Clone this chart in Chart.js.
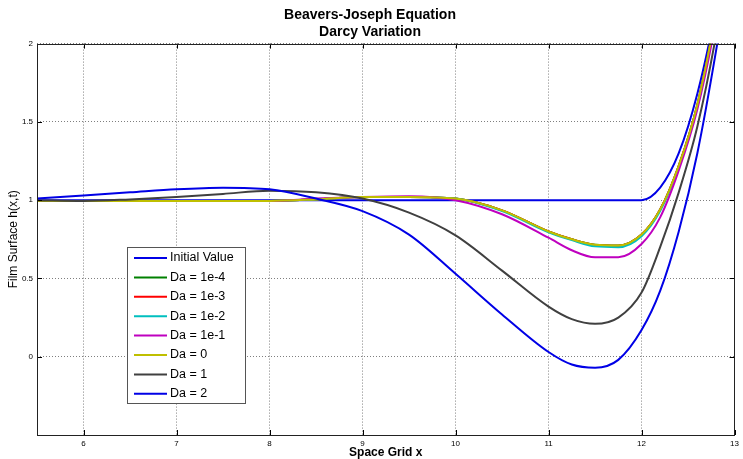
<!DOCTYPE html>
<html>
<head>
<meta charset="utf-8">
<script src="https://cdn.jsdelivr.net/npm/chart.js@4.4.1/dist/chart.umd.min.js"></script>
<style>
  body { margin: 0; background: #fff; }
  canvas { display: block; }
</style>
</head>
<body>
<canvas id="film" width="743" height="459"></canvas>
<script>
// space grid points and film heights
const xs = [5.5, 6, 6.5, 7, 7.5, 8, 8.5, 9, 9.5, 10, 10.5, 11, 11.25, 11.5, 11.75, 12, 12.2, 12.4, 12.6, 12.8, 13];
const initialValue = [1, 1, 1, 1, 1, 1, 1, 1, 1, 1, 1, 1, 1, 1, 1, 1, 1.08, 1.30, 1.68, 2.22, 2.9];
const da1e4 = [0.995, 0.995, 0.995, 0.995, 0.995, 0.995, 1.005, 1.02, 1.02, 1.01, 0.935, 0.80, 0.75, 0.715, 0.71, 0.78, 0.94, 1.22, 1.61, 2.2, 3.0];
const da1e3 = [0.995, 0.995, 0.995, 0.995, 0.995, 0.995, 1.005, 1.02, 1.02, 1.01, 0.935, 0.80, 0.75, 0.714, 0.709, 0.78, 0.94, 1.22, 1.61, 2.2, 3.0];
const da1e2 = [0.995, 0.995, 0.995, 0.995, 0.995, 0.995, 1.005, 1.02, 1.02, 1.01, 0.93, 0.795, 0.745, 0.705, 0.70, 0.77, 0.93, 1.21, 1.60, 2.19, 3.0];
const da1e1 = [0.995, 0.995, 0.995, 0.995, 0.995, 0.995, 1.01, 1.02, 1.025, 1.0, 0.91, 0.76, 0.68, 0.635, 0.635, 0.72, 0.89, 1.19, 1.58, 2.15, 2.9];
const da0 = [0.995, 0.995, 0.995, 0.995, 0.995, 0.995, 1.005, 1.02, 1.02, 1.01, 0.935, 0.80, 0.75, 0.715, 0.71, 0.78, 0.94, 1.22, 1.61, 2.2, 3.0];
const da1 = [1.0, 0.995, 1.005, 1.02, 1.04, 1.06, 1.05, 1.01, 0.92, 0.775, 0.55, 0.32, 0.24, 0.21, 0.25, 0.41, 0.70, 1.05, 1.47, 2.05, 2.8];
const da2 = [1.01, 1.03, 1.05, 1.07, 1.08, 1.07, 1.01, 0.93, 0.78, 0.53, 0.27, 0.03, -0.05, -0.07, -0.02, 0.17, 0.42, 0.80, 1.30, 1.95, 2.7];

const seriesNames = ['Initial Value', 'Da = 1e-4', 'Da = 1e-3', 'Da = 1e-2', 'Da = 1e-1', 'Da = 0', 'Da = 1', 'Da = 2'];
const seriesData = [initialValue, da1e4, da1e3, da1e2, da1e1, da0, da1, da2];
const seriesColors = ['#0000e6', '#008000', '#ff0000', '#00bfbf', '#bf00bf', '#bfbf00', '#404040', '#0000e6'];
const xTicks = [6, 7, 8, 9, 10, 11, 12, 13];
const yTicks = [0, 0.5, 1, 1.5, 2];

const sans = "'Liberation Sans', Arial, Helvetica, sans-serif";

// matlab style box, inward ticks and legend inside the axes
const matlabBox = {
    id: 'matlabBox',
    afterDatasetsDraw(chart) {
        const { ctx, chartArea: a, scales } = chart;
        ctx.save();
        ctx.strokeStyle = '#000';
        ctx.lineWidth = 1;
        ctx.beginPath();
        xTicks.forEach(t => {
            const px = Math.round(scales.x.getPixelForValue(t)) + 0.5;
            ctx.moveTo(px, a.bottom); ctx.lineTo(px, a.bottom - 5);
            ctx.moveTo(px, a.top); ctx.lineTo(px, a.top + 5);
        });
        yTicks.forEach(t => {
            const py = Math.round(scales.y.getPixelForValue(t)) + 0.5;
            ctx.moveTo(a.left, py); ctx.lineTo(a.left + 5, py);
            ctx.moveTo(a.right, py); ctx.lineTo(a.right - 5, py);
        });
        ctx.stroke();
        ctx.strokeStyle = '#222';
        ctx.strokeRect(Math.round(a.left) + 0.5, Math.round(a.top) + 0.5, Math.round(a.right - a.left) - 1, Math.round(a.bottom - a.top));
        ctx.restore();
    },
    afterDraw(chart) {
        const ctx = chart.ctx;
        const bx = 127, by = 247, bw = 118, bh = 156, step = 19.4;
        ctx.save();
        ctx.fillStyle = '#fff';
        ctx.fillRect(bx, by, bw, bh);
        ctx.strokeStyle = '#555';
        ctx.lineWidth = 1;
        ctx.strokeRect(bx + 0.5, by + 0.5, bw, bh);
        ctx.font = '12.5px ' + sans;
        ctx.textBaseline = 'middle';
        chart.data.datasets.forEach((ds, i) => {
            const y = by + 11 + i * step;
            ctx.strokeStyle = ds.borderColor;
            ctx.lineWidth = 2;
            ctx.beginPath();
            ctx.moveTo(134, y); ctx.lineTo(167, y);
            ctx.stroke();
            ctx.fillStyle = '#000';
            ctx.fillText(ds.label, 170, y);
        });
        ctx.restore();
    }
};

const ctx = document.getElementById('film').getContext('2d');
const filmChart = new Chart(ctx, {
    type: 'line',
    data: {
        datasets: seriesNames.map((name, i) => ({
            label: name,
            data: xs.map((x, j) => ({ x: x, y: seriesData[i][j] })),
            borderColor: seriesColors[i],
            backgroundColor: seriesColors[i],
            borderWidth: 2,
            pointRadius: 0,
            fill: false,
            cubicInterpolationMode: 'monotone',
            order: seriesNames.length - i
        }))
    },
    options: {
        responsive: false,
        animation: false,
        layout: { padding: { left: 0, right: 3, top: 0, bottom: 0 } },
        plugins: {
            legend: { display: false },
            tooltip: { enabled: false },
            title: {
                display: true,
                text: ['Beavers-Joseph Equation', 'Darcy Variation'],
                color: '#000',
                font: { family: sans, size: 14, weight: 'bold', lineHeight: 1.2 },
                padding: { top: 7, bottom: 3 }
            }
        },
        scales: {
            x: {
                type: 'linear',
                min: 5.5,
                max: 13,
                afterBuildTicks: scale => { scale.ticks = xTicks.map(v => ({ value: v })); },
                afterFit: scale => { scale.height = 24; },
                grid: { color: 'rgba(0,0,0,0.5)', drawTicks: false },
                border: { display: false, dash: [1, 2] },
                ticks: { color: '#000', padding: 4, font: { family: sans, size: 8 }, maxRotation: 0, callback: v => v.toString() },
                title: {
                    display: true,
                    text: 'Space Grid x',
                    color: '#000',
                    font: { family: sans, size: 12, weight: 'bold', lineHeight: 1.0 },
                    padding: { top: 0, bottom: 0 }
                }
            },
            y: {
                type: 'linear',
                min: -0.5,
                max: 2,
                afterBuildTicks: scale => { scale.ticks = yTicks.map(v => ({ value: v })); },
                afterFit: scale => { scale.width = 37; },
                grid: { color: 'rgba(0,0,0,0.5)', drawTicks: false },
                border: { display: false, dash: [1, 2] },
                ticks: { color: '#000', padding: 4, font: { family: sans, size: 8 }, callback: v => v.toString() },
                title: {
                    display: true,
                    text: 'Film Surface h(x,t)',
                    color: '#000',
                    font: { family: sans, size: 12, weight: 'normal', lineHeight: 1.0 },
                    padding: { top: 8, bottom: 0 }
                }
            }
        }
    },
    plugins: [matlabBox]
});
</script>
</body>
</html>
